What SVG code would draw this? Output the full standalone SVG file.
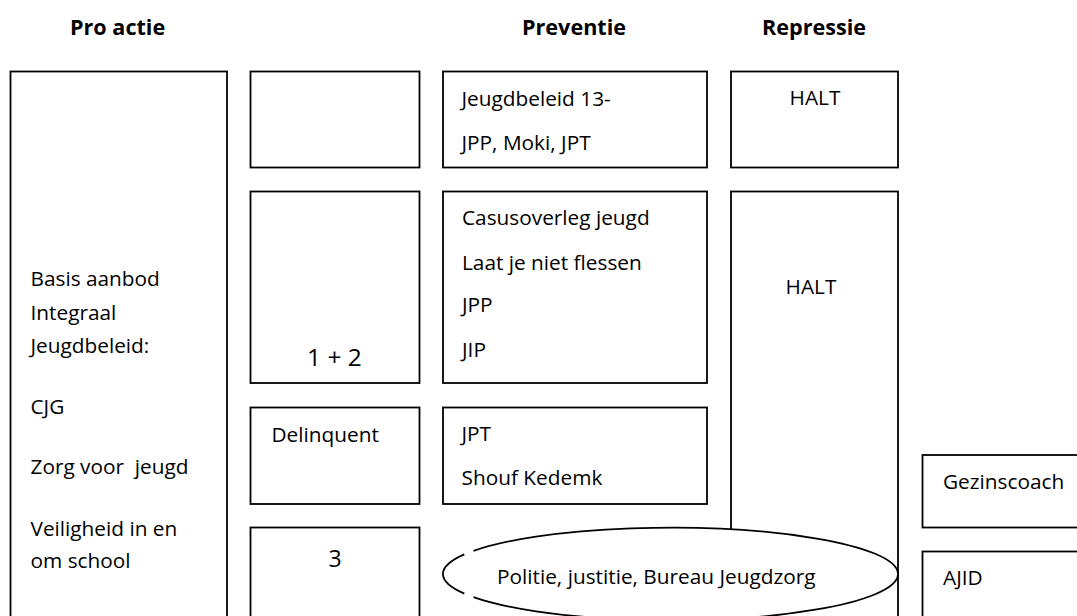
<svg xmlns="http://www.w3.org/2000/svg" width="1077" height="616" viewBox="0 0 1077 616">
<style>
.box{fill:#fff;stroke:#000;stroke-width:1.8}
.t{font-family:"Open Sans","Liberation Sans",sans-serif;font-size:20.8px;fill:#000;white-space:pre}
.h{font-family:"Open Sans","Liberation Sans",sans-serif;font-size:21.6px;font-weight:bold;fill:#000}
.c{text-anchor:middle}
.big{font-size:24.5px}
.arc{fill:none;stroke:#000;stroke-width:1.8}
</style>
<rect width="1077" height="616" fill="#fff"/>
<g id="headers">
<text class="h" x="70" y="35">Pro actie</text>
<text class="h" x="522" y="35">Preventie</text>
<text class="h" x="762" y="35">Repressie</text>
</g>
<g id="proactie">
<rect class="box" x="10.5" y="71.5" width="216.5" height="560"/>
<text class="t" x="30.5" y="286">Basis aanbod</text>
<text class="t" x="30.5" y="320">Integraal</text>
<text class="t" x="30.5" y="353">Jeugdbeleid:</text>
<text class="t" x="30.5" y="414">CJG</text>
<text class="t" x="30.5" y="474" xml:space="preserve">Zorg voor  jeugd</text>
<text class="t" x="30.5" y="535.5">Veiligheid in en</text>
<text class="t" x="30.5" y="567.5">om school</text>
</g>
<g id="col2-top"><rect class="box" x="250.5" y="71.5" width="169" height="96"/></g>
<g id="col2-12"><rect class="box" x="250.5" y="191.5" width="169" height="191.5"/>
<text class="t c big" x="334.5" y="366">1 + 2</text></g>
<g id="col2-delinquent"><rect class="box" x="250.5" y="407.5" width="169" height="96.5"/>
<text class="t" x="271.5" y="441.5">Delinquent</text></g>
<g id="col2-3"><rect class="box" x="250.5" y="527.5" width="169" height="100"/>
<text class="t c" x="335" y="566.5" style="font-size:23px">3</text></g>
<g id="prev-1"><rect class="box" x="443" y="71.5" width="264" height="96"/>
<text class="t" x="461.5" y="105.5">Jeugdbeleid 13-</text>
<text class="t" x="461.5" y="149.5">JPP, Moki, JPT</text></g>
<g id="prev-2"><rect class="box" x="443" y="191.5" width="264" height="191.5"/>
<text class="t" x="462" y="225">Casusoverleg jeugd</text>
<text class="t" x="462" y="269.5">Laat je niet flessen</text>
<text class="t" x="462" y="311.5">JPP</text>
<text class="t" x="462" y="356.5">JIP</text></g>
<g id="prev-3"><rect class="box" x="443" y="407.5" width="264" height="96.5"/>
<text class="t" x="461.5" y="441">JPT</text>
<text class="t" x="461.5" y="485">Shouf Kedemk</text></g>
<g id="rep-1"><rect class="box" x="731" y="71.5" width="167" height="96"/>
<text class="t c" x="815" y="105">HALT</text></g>
<g id="rep-2"><rect class="box" x="731" y="191.5" width="167" height="440"/>
<text class="t c" x="811" y="294">HALT</text></g>
<g id="gezinscoach"><rect class="box" x="922.5" y="455" width="170" height="72.5"/>
<text class="t" x="943" y="488.5">Gezinscoach</text></g>
<g id="ajid"><rect class="box" x="922.5" y="551.5" width="170" height="80"/>
<text class="t" x="943" y="584.5">AJID</text></g>
<g id="politie">
<ellipse cx="670.5" cy="574" rx="227.5" ry="46.3" fill="#fff" stroke="none"/>
<path class="arc" d="M473.5,550.85 A227.5,46.3 0 1 1 473.5,597.15"/>
<path class="arc" d="M464.3,554.4 A227.5,46.3 0 0 0 464.3,593.6"/>
<text class="t" x="497" y="584">Politie, justitie, Bureau Jeugdzorg</text>
</g>
<g id="connectors"/>
</svg>
